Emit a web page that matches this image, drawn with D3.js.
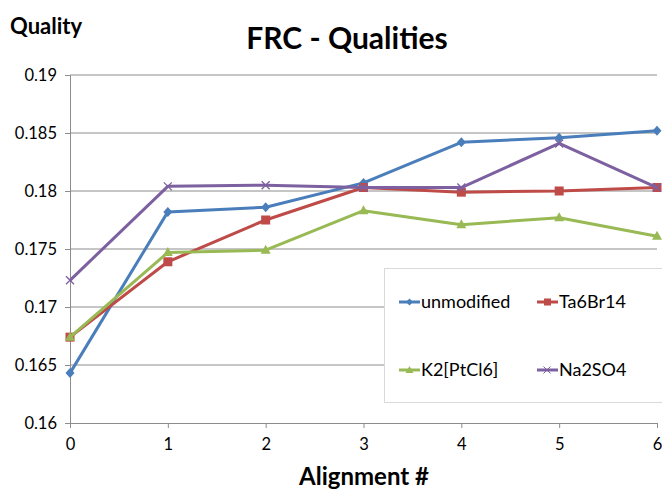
<!DOCTYPE html>
<html>
<head>
<meta charset="utf-8">
<script src="https://cdn.jsdelivr.net/npm/d3@7"></script>
<style>
  html, body { margin: 0; padding: 0; background: #fff; }
  svg { display: block; font-family: Lato, "Open Sans", sans-serif; }
</style>
</head>
<body>
<svg id="chart" width="662" height="490"></svg>
<script>
// Alignment steps and FRC quality per sample
const alignments = [0, 1, 2, 3, 4, 5, 6];
const unmodified = [0.1643, 0.1782, 0.1786, 0.1807, 0.1842, 0.1846, 0.1852];
const ta6br14    = [0.1674, 0.1739, 0.1775, 0.1803, 0.1799, 0.1800, 0.1803];
const k2ptcl6    = [0.1674, 0.1747, 0.1749, 0.1783, 0.1771, 0.1777, 0.1761];
const na2so4     = [0.1723, 0.1804, 0.1805, 0.1803, 0.1803, 0.1841, 0.1803];
const yTicks = [0.16, 0.165, 0.17, 0.175, 0.18, 0.185, 0.19];

const series = [
  { name: "unmodified", values: unmodified, color: "#4A7EBB", marker: "diamond" },
  { name: "Ta6Br14",    values: ta6br14,    color: "#BE4B48", marker: "square" },
  { name: "K2[PtCl6]",  values: k2ptcl6,    color: "#98B954", marker: "triangle" },
  { name: "Na2SO4",     values: na2so4,     color: "#7D60A0", marker: "cross" }
];

const svg = d3.select("#chart");
const plotLeft = 70, plotRight = 657, plotTop = 75, plotBottom = 423;

const x = d3.scaleLinear().domain([0, 6]).range([plotLeft, plotRight]);
const y = d3.scaleLinear().domain([0.16, 0.19]).range([plotBottom, plotTop]);

// Horizontal gridlines
svg.append("g").selectAll("line").data(yTicks.slice(1)).join("line")
  .attr("x1", plotLeft).attr("x2", plotRight)
  .attr("y1", d => y(d)).attr("y2", d => y(d))
  .attr("stroke", "#8c8c8c").attr("stroke-width", 1);

// Y axis
const yAxis = svg.append("g").attr("transform", `translate(${plotLeft},0)`)
  .call(d3.axisLeft(y).tickValues(yTicks).tickSize(5).tickPadding(8)
    .tickFormat(d => String(+d.toFixed(3))));
yAxis.select(".domain").attr("stroke", "#8c8c8c");
yAxis.selectAll(".tick line").attr("stroke", "#8c8c8c");
yAxis.selectAll("text").attr("font-size", 16.5).attr("fill", "#000")
  .attr("font-family", "Lato, sans-serif");

// X axis
const xAxis = svg.append("g").attr("transform", `translate(0,${plotBottom})`)
  .call(d3.axisBottom(x).tickValues(alignments).tickSize(5).tickPadding(10)
    .tickFormat(d3.format("d")));
xAxis.select(".domain").attr("stroke", "#8c8c8c");
xAxis.selectAll(".tick line").attr("stroke", "#8c8c8c");
xAxis.selectAll("text").attr("font-size", 16.5).attr("fill", "#000")
  .attr("font-family", "Lato, sans-serif");

// Marker shapes
function drawMarker(g, type, color, cx, cy) {
  if (type === "diamond") {
    g.append("path").attr("d", `M${cx},${cy - 5}L${cx + 4.5},${cy}L${cx},${cy + 5}L${cx - 4.5},${cy}Z`)
      .attr("fill", color);
  } else if (type === "square") {
    g.append("rect").attr("x", cx - 4.5).attr("y", cy - 4.5).attr("width", 9).attr("height", 9)
      .attr("fill", color);
  } else if (type === "triangle") {
    g.append("path").attr("d", `M${cx},${cy - 5.5}L${cx + 5},${cy + 3.5}L${cx - 5},${cy + 3.5}Z`)
      .attr("fill", color);
  } else if (type === "cross") {
    g.append("path").attr("d", `M${cx - 4},${cy - 4}L${cx + 4},${cy + 4}M${cx - 4},${cy + 4}L${cx + 4},${cy - 4}`)
      .attr("stroke", color).attr("stroke-width", 1.3).attr("fill", "none");
  }
}

const line = d3.line().x((d, i) => x(alignments[i])).y(d => y(d));

series.forEach(s => {
  const g = svg.append("g");
  g.append("path").attr("d", line(s.values))
    .attr("fill", "none").attr("stroke", s.color).attr("stroke-width", 3)
    .attr("stroke-linejoin", "round");
  s.values.forEach((v, i) => drawMarker(g, s.marker, s.color, x(alignments[i]), y(v)));
});

// Legend
const legend = svg.append("g");
legend.append("rect").attr("x", 384.5).attr("y", 268.5).attr("width", 290).attr("height", 134)
  .attr("fill", "#fff").attr("stroke", "#d9d9d9");
const legendPos = [[399, 302], [537, 302], [399, 370], [537, 370]];
series.forEach((s, i) => {
  const [lx, ly] = legendPos[i];
  legend.append("line").attr("x1", lx).attr("x2", lx + 21).attr("y1", ly).attr("y2", ly)
    .attr("stroke", s.color).attr("stroke-width", 3);
  const mg = legend.append("g");
  if (s.marker === "cross") {
    mg.append("path").attr("d", `M${lx + 6.5},${ly - 3.5}L${lx + 13.5},${ly + 3.5}M${lx + 6.5},${ly + 3.5}L${lx + 13.5},${ly - 3.5}`)
      .attr("stroke", s.color).attr("stroke-width", 1).attr("fill", "none");
  } else if (s.marker === "diamond") {
    mg.append("path").attr("d", `M${lx + 10.5},${ly - 3.5}L${lx + 14},${ly}L${lx + 10.5},${ly + 3.5}L${lx + 7},${ly}Z`).attr("fill", s.color);
  } else if (s.marker === "square") {
    mg.append("rect").attr("x", lx + 7).attr("y", ly - 3.5).attr("width", 7).attr("height", 7).attr("fill", s.color);
  } else {
    mg.append("path").attr("d", `M${lx + 10.5},${ly - 4}L${lx + 14.5},${ly + 3}L${lx + 6.5},${ly + 3}Z`).attr("fill", s.color);
  }
  legend.append("text").attr("x", lx + 22).attr("y", ly + 6)
    .attr("font-size", 18).attr("fill", "#000").text(s.name);
});

// Titles
svg.append("text").attr("x", 347).attr("y", 49).attr("text-anchor", "middle")
  .attr("font-size", 30).attr("font-weight", "bold").text("FRC - Qualities");
svg.append("text").attr("x", 10).attr("y", 34)
  .attr("font-size", 22).attr("font-weight", "bold").text("Quality");
svg.append("text").attr("x", 364).attr("y", 485).attr("text-anchor", "middle")
  .attr("font-size", 24).attr("font-weight", "bold").text("Alignment #");
</script>
</body>
</html>
